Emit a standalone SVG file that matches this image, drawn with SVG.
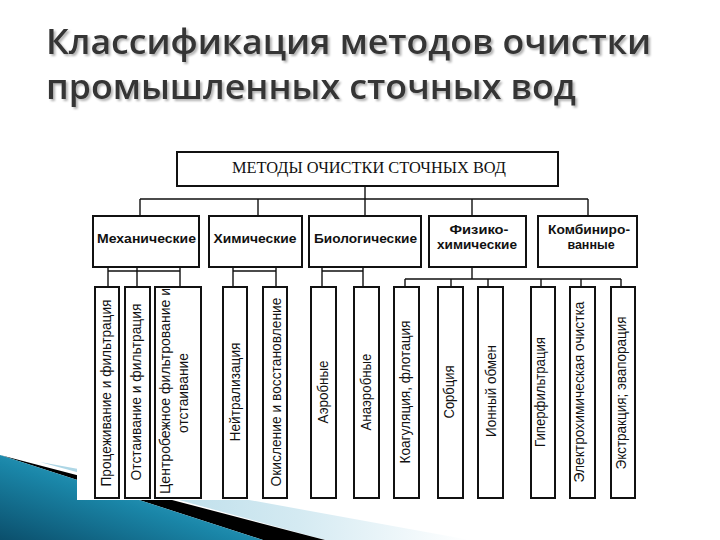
<svg xmlns="http://www.w3.org/2000/svg" width="720" height="540" viewBox="0 0 720 540">
<style>
.box{fill:#fff;stroke:#111;stroke-width:2}
.ln{fill:none;stroke:#111;stroke-width:1.4}
.cat{font-family:"Liberation Sans",Arial,sans-serif;font-weight:bold;font-size:13.5px;fill:#111;text-anchor:middle}
.cat2{font-family:"Liberation Sans",Arial,sans-serif;font-weight:bold;font-size:12.5px;fill:#111;text-anchor:middle}
.sub{font-family:"Liberation Sans",Arial,sans-serif;font-size:14px;fill:#111;text-anchor:middle}
.hdr{font-family:"Liberation Serif","Times New Roman",serif;font-size:16px;fill:#111;text-anchor:middle}
.ttl{font-family:"Open Sans","Noto Sans",sans-serif;font-weight:600;font-size:34px;fill:#353535}
</style>
<defs>
<linearGradient id="teal" x1="0" y1="1" x2="1" y2="0">
<stop offset="0" stop-color="#0b4f6c"/>
<stop offset="0.45" stop-color="#1a86a8"/>
<stop offset="0.8" stop-color="#3fb0d0"/>
<stop offset="1" stop-color="#7ccbe0"/>
</linearGradient>
<linearGradient id="lb" x1="0" y1="0" x2="1" y2="0">
<stop offset="0" stop-color="#a9d4e4"/>
<stop offset="0.6" stop-color="#d4eaf2"/>
<stop offset="1" stop-color="#ffffff"/>
</linearGradient>
<filter id="sh" x="-5%" y="-20%" width="110%" height="150%">
<feDropShadow dx="2" dy="2" stdDeviation="1.2" flood-color="#000" flood-opacity="0.3"/>
</filter>
</defs>
<rect width="720" height="540" fill="#fff"/>
<g id="decoration">
<polygon points="40,462 470,540 325,540" fill="url(#lb)"/>
<polygon points="0,455 325,540 263,540" fill="#000"/>
<polygon points="0,455 263,540 0,540" fill="url(#teal)"/>
</g>
<rect id="picture" x="77" y="140" width="568" height="360" fill="#fff"/>
<g id="title" filter="url(#sh)">
<text class="ttl" x="46" y="54" textLength="605" lengthAdjust="spacingAndGlyphs">Классификация методов очистки</text>
<text class="ttl" x="46" y="99" textLength="530" lengthAdjust="spacingAndGlyphs">промышленных сточных вод</text>
</g>
<g id="connectors">
<path class="ln" d="M365,186V216M140,199H588M140,199V216M258,199V216M472,199V216M588,199V216"/>
<path class="ln" d="M108,271H180M108,267V287M137,267V287M180,267V287"/>
<path class="ln" d="M233,271H276M233,267V287M276,267V287"/>
<path class="ln" d="M322,271H363M322,267V287M363,267V287"/>
<path class="ln" d="M472,267V279M405,279H621M405,279V287M451,279V287M488,279V287M541,279V287M581,279V287M621,279V287"/>
</g>
<g id="root"><rect class="box" x="177" y="152" width="381" height="34"/><text class="hdr" x="369" y="173" textLength="274" lengthAdjust="spacingAndGlyphs">МЕТОДЫ ОЧИСТКИ СТОЧНЫХ ВОД</text></g>
<g id="mech"><rect class="box" x="93" y="216" width="106" height="51"/><text class="cat" x="146.5" y="243" textLength="99" lengthAdjust="spacingAndGlyphs">Механические</text></g>
<g id="chem"><rect class="box" x="209" y="216" width="93" height="51"/><text class="cat" x="255" y="243" textLength="83" lengthAdjust="spacingAndGlyphs">Химические</text></g>
<g id="bio"><rect class="box" x="309" y="216" width="112" height="51"/><text class="cat" x="365.5" y="243" textLength="103" lengthAdjust="spacingAndGlyphs">Биологические</text></g>
<g id="phys"><rect class="box" x="429" y="216" width="97" height="51"/><text class="cat2" x="479" y="234" textLength="59" lengthAdjust="spacingAndGlyphs">Физико-</text><text class="cat2" x="477" y="249" textLength="80" lengthAdjust="spacingAndGlyphs">химические</text></g>
<g id="comb"><rect class="box" x="538" y="216" width="99" height="51"/><text class="cat2" x="589" y="234" textLength="82" lengthAdjust="spacingAndGlyphs">Комбиниро-</text><text class="cat2" x="591" y="249">ванные</text></g>
<g id="s1"><rect class="box" x="95" y="287" width="24" height="211"/><text class="sub" transform="translate(111,393) rotate(-90)" textLength="187" lengthAdjust="spacingAndGlyphs">Процеживание и фильтрация</text></g>
<g id="s2"><rect class="box" x="125" y="287" width="25" height="211"/><text class="sub" transform="translate(141,392) rotate(-90)" textLength="177" lengthAdjust="spacingAndGlyphs">Отстаивание и фильтрация</text></g>
<g id="s3"><rect class="box" x="155" y="287" width="46" height="211"/><text class="sub" transform="translate(170,391) rotate(-90)" textLength="206" lengthAdjust="spacingAndGlyphs">Центробежное фильтрование и</text><text class="sub" transform="translate(188,393) rotate(-90)" textLength="80" lengthAdjust="spacingAndGlyphs">отстаивание</text></g>
<g id="s4"><rect class="box" x="223" y="287" width="24" height="211"/><text class="sub" transform="translate(240,392) rotate(-90)" textLength="99" lengthAdjust="spacingAndGlyphs">Нейтрализация</text></g>
<g id="s5"><rect class="box" x="263" y="287" width="24" height="211"/><text class="sub" transform="translate(281,392) rotate(-90)" textLength="189" lengthAdjust="spacingAndGlyphs">Окисление и восстановление</text></g>
<g id="s6"><rect class="box" x="311" y="287" width="25" height="211"/><text class="sub" transform="translate(328,392) rotate(-90)" textLength="63" lengthAdjust="spacingAndGlyphs">Аэробные</text></g>
<g id="s7"><rect class="box" x="354" y="287" width="25" height="211"/><text class="sub" transform="translate(371,392) rotate(-90)" textLength="77" lengthAdjust="spacingAndGlyphs">Анаэробные</text></g>
<g id="s8"><rect class="box" x="394" y="287" width="25" height="211"/><text class="sub" transform="translate(410,392) rotate(-90)" textLength="143" lengthAdjust="spacingAndGlyphs">Коагуляция, флотация</text></g>
<g id="s9"><rect class="box" x="438" y="287" width="25" height="211"/><text class="sub" transform="translate(454,392) rotate(-90)" textLength="53" lengthAdjust="spacingAndGlyphs">Сорбция</text></g>
<g id="s10"><rect class="box" x="478" y="287" width="25" height="211"/><text class="sub" transform="translate(496,391) rotate(-90)" textLength="92" lengthAdjust="spacingAndGlyphs">Ионный обмен</text></g>
<g id="s11"><rect class="box" x="531" y="287" width="24" height="211"/><text class="sub" transform="translate(545,392) rotate(-90)" textLength="110" lengthAdjust="spacingAndGlyphs">Гиперфильтрация</text></g>
<g id="s12"><rect class="box" x="570" y="287" width="25" height="211"/><text class="sub" transform="translate(584,392) rotate(-90)" textLength="181" lengthAdjust="spacingAndGlyphs">Электрохимическая очистка</text></g>
<g id="s13"><rect class="box" x="611" y="287" width="24" height="211"/><text class="sub" transform="translate(626,393) rotate(-90)" textLength="153" lengthAdjust="spacingAndGlyphs">Экстракция; эвапорация</text></g>
</svg>
